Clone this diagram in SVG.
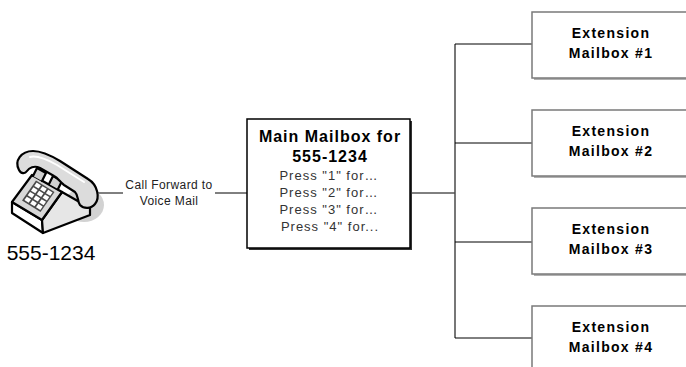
<svg xmlns="http://www.w3.org/2000/svg" width="686" height="367" viewBox="0 0 686 367">
  <style>
    .lbl { font-family: "Liberation Sans", Arial, sans-serif; text-anchor: middle; }
    .ext { font-size: 14px; font-weight: bold; letter-spacing: 1.3px; fill: #000; }
    .title { font-size: 16px; font-weight: bold; letter-spacing: 1px; fill: #000; }
    .menu { font-size: 13px; letter-spacing: 1px; fill: #333; }
    .small { font-size: 12px; letter-spacing: 0.4px; fill: #222; }
    .wire { stroke: #000; stroke-width: 1; fill: none; }
    .bus { stroke: #4a4a4a; stroke-width: 1.5; fill: none; }
    .extbox { fill: #fff; stroke: #7a7a7a; stroke-width: 1.5; }
    .extshadow { fill: #b0b0b0; }
    .ph { stroke: #000; stroke-width: 2.2; stroke-linejoin: round; stroke-linecap: round; }
  </style>

  <rect width="686" height="367" fill="#fff"/>

  <!-- connectors -->
  <g id="connectors">
    <line class="wire" x1="97" y1="193" x2="123" y2="193"/>
    <line class="wire" x1="215" y1="193" x2="247" y2="193"/>
    <line class="wire" x1="411" y1="193" x2="455" y2="193"/>
    <line class="bus" x1="455" y1="44" x2="455" y2="338"/>
    <line class="wire" x1="455" y1="44" x2="532" y2="44"/>
    <line class="wire" x1="455" y1="143" x2="532" y2="143"/>
    <line class="wire" x1="455" y1="242" x2="532" y2="242"/>
    <line class="wire" x1="455" y1="338" x2="532" y2="338"/>
    <text class="lbl small" x="169" y="189">Call Forward to</text>
    <text class="lbl small" x="169" y="205">Voice Mail</text>
  </g>

  <!-- telephone -->
  <g id="phone">
    <ellipse cx="84" cy="205" rx="20" ry="17" fill="#d2d2d2"/>
    <!-- base: front strip, right side, sloped keypad face -->
    <polygon class="ph" points="12,202 42,220 43,233 12,213" fill="#fff"/>
    <polygon class="ph" points="42,220 62,192 90,208 90,215 43,233" fill="#e6e6e6"/>
    <polygon class="ph" points="12,202 32,175 62,192 42,220" fill="#d8d8d8"/>
    <!-- keypad, drawn in the plane of the sloped face -->
    <g transform="matrix(1 0.62 0.7 -1 13 202)">
      <rect x="5.5" y="5" width="18.5" height="20" fill="#4a4a4a"/>
      <g fill="#fff">
        <rect x="7" y="6.3" width="4.3" height="3.4"/>
        <rect x="12.8" y="6.3" width="4.3" height="3.4"/>
        <rect x="18.6" y="6.3" width="4.3" height="3.4"/>
        <rect x="7" y="11" width="4.3" height="3.4"/>
        <rect x="12.8" y="11" width="4.3" height="3.4"/>
        <rect x="18.6" y="11" width="4.3" height="3.4"/>
        <rect x="7" y="15.7" width="4.3" height="3.4"/>
        <rect x="12.8" y="15.7" width="4.3" height="3.4"/>
        <rect x="18.6" y="15.7" width="4.3" height="3.4"/>
        <rect x="7" y="20.4" width="4.3" height="3.4"/>
        <rect x="12.8" y="20.4" width="4.3" height="3.4"/>
        <rect x="18.6" y="20.4" width="4.3" height="3.4"/>
      </g>
    </g>
    <!-- cradle prongs -->
    <path class="ph" d="M33,176 L37,168 L46,173 L42,181" fill="#cfcfcf"/>
    <path class="ph" d="M49,184 L53,176 L62,181 L58,189" fill="#cfcfcf"/>
    <!-- handset -->
    <path class="ph" fill="#dcdcdc" d="M19,170 C14,161 21,151 33,151 C41,151 50,155 60,161 L88,179 C98,185 100,198 95,204 C91,209 84,209 80,205 C77,201 79,196 75,192 L64,185 C60,182 58,178 54,176 L40,168 C34,165 29,168 27,171 C25,174 21,174 19,170 Z"/>
    <path d="M30,157 C38,155 48,160 57,165 L84,182" stroke="#fff" stroke-width="2" fill="none" stroke-linecap="round"/>
    <text class="lbl" x="51" y="260" font-size="21" fill="#000">555-1234</text>
  </g>

  <!-- main mailbox -->
  <g id="main-mailbox">
    <rect x="249" y="121" width="163" height="129" fill="#333"/>
    <rect x="247" y="119" width="163" height="129" fill="#fff" stroke="#000" stroke-width="1.5"/>
    <text class="lbl title" x="330" y="142">Main Mailbox for</text>
    <text class="lbl title" x="330" y="162">555-1234</text>
    <text class="lbl menu" x="329" y="180">Press "1" for…</text>
    <text class="lbl menu" x="329" y="197">Press "2" for…</text>
    <text class="lbl menu" x="329" y="214">Press "3" for…</text>
    <text class="lbl menu" x="330" y="231">Press "4" for...</text>
  </g>

  <!-- extension mailboxes -->
  <g id="ext1">
    <rect class="extshadow" x="534" y="14" width="170" height="66"/>
    <rect class="extbox" x="532" y="12" width="170" height="66"/>
    <text class="lbl ext" x="611" y="38">Extension</text>
    <text class="lbl ext" x="611" y="58">Mailbox #1</text>
  </g>
  <g id="ext2">
    <rect class="extshadow" x="534" y="112" width="170" height="66"/>
    <rect class="extbox" x="532" y="110" width="170" height="66"/>
    <text class="lbl ext" x="611" y="136">Extension</text>
    <text class="lbl ext" x="611" y="156">Mailbox #2</text>
  </g>
  <g id="ext3">
    <rect class="extshadow" x="534" y="210" width="170" height="66"/>
    <rect class="extbox" x="532" y="208" width="170" height="66"/>
    <text class="lbl ext" x="611" y="234">Extension</text>
    <text class="lbl ext" x="611" y="254">Mailbox #3</text>
  </g>
  <g id="ext4">
    <rect class="extshadow" x="534" y="308" width="170" height="66"/>
    <rect class="extbox" x="532" y="306" width="170" height="66"/>
    <text class="lbl ext" x="611" y="332">Extension</text>
    <text class="lbl ext" x="611" y="352">Mailbox #4</text>
  </g>
</svg>
